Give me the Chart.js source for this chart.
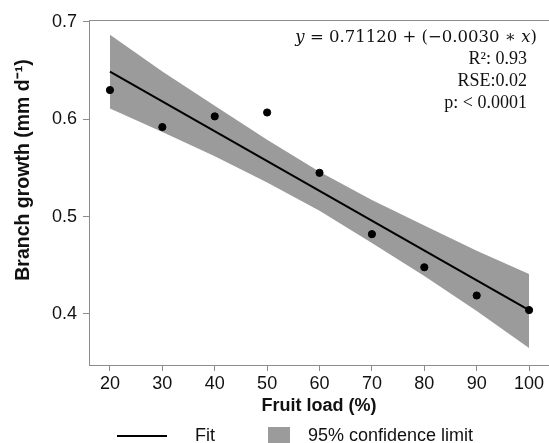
<!DOCTYPE html>
<html>
<head>
<meta charset="utf-8">
<script src="https://cdn.jsdelivr.net/npm/chart.js@4.4.1/dist/chart.umd.min.js"></script>
<style>
  html, body { margin: 0; padding: 0; background: #fff; }
  #wrap { width: 549px; height: 443px; }
</style>
</head>
<body>
<div id="wrap"><canvas id="growthChart" width="549" height="443"></canvas></div>
<script>
// observed values
const fruitLoad = [20, 30, 40, 50, 60, 70, 80, 90, 100];
const branchGrowth = [0.630, 0.592, 0.603, 0.607, 0.545, 0.482, 0.448, 0.419, 0.404];

// fitted line (end points)
const fitX = [20, 100];
const fitY = [0.649, 0.404];

// 95% confidence band, read at each fruit load
const ciUpper = [0.687, 0.649, 0.614, 0.579, 0.546, 0.517, 0.491, 0.465, 0.441];
const ciLower = [0.611, 0.587, 0.562, 0.535, 0.506, 0.473, 0.439, 0.403, 0.365];

const xTicks = [20, 30, 40, 50, 60, 70, 80, 90, 100];
const yTicks = [0.4, 0.5, 0.6, 0.7];

const statLines = ['R\u00B2: 0.93', 'RSE:0.02', 'p: < 0.0001'];

const axisGrey = '#8c8c8c';
const bandGrey = '#9b9b9b';
const sans = '"Liberation Sans", Arial, sans-serif';
const serif = '"Liberation Serif", "DejaVu Serif", serif';
const mathSerif = '"DejaVu Serif", serif';

function pts(xs, ys) {
    return xs.map((x, i) => ({ x: x, y: ys[i] }));
}

// top border line, y title, regression text and the legend under the axis
const extras = {
    id: 'extras',
    afterDraw(chart) {
        const { ctx, chartArea } = chart;
        ctx.save();

        ctx.strokeStyle = axisGrey;
        ctx.lineWidth = 1;
        ctx.beginPath();
        ctx.moveTo(chartArea.left, chartArea.top + 0.5);
        ctx.lineTo(chart.width, chartArea.top + 0.5);
        ctx.stroke();

        // y axis title (sits a bit above the middle in the original)
        ctx.save();
        ctx.translate(23.5, 170);
        ctx.rotate(-Math.PI / 2);
        ctx.font = 'bold 19.5px ' + sans;
        ctx.fillStyle = '#111';
        ctx.textAlign = 'center';
        ctx.textBaseline = 'middle';
        ctx.fillText('Branch growth (mm d\u207B\u00B9)', 0, 0);
        ctx.restore();

        // equation, right aligned
        const parts = [
            { t: 'y', it: true },
            { t: ' = 0.71120 + (\u22120.0030 \u2217 ', it: false },
            { t: 'x', it: true },
            { t: ')', it: false }
        ];
        const size = 16.5;
        let total = 0;
        parts.forEach(p => {
            ctx.font = (p.it ? 'italic ' : '') + size + 'px ' + mathSerif;
            p.w = ctx.measureText(p.t).width;
            total += p.w;
        });
        ctx.fillStyle = '#111';
        ctx.textBaseline = 'alphabetic';
        ctx.textAlign = 'left';
        let x = 537 - total;
        parts.forEach(p => {
            ctx.font = (p.it ? 'italic ' : '') + size + 'px ' + mathSerif;
            ctx.fillText(p.t, x, 42);
            x += p.w;
        });

        ctx.font = '18px ' + serif;
        ctx.textAlign = 'right';
        statLines.forEach((s, i) => {
            ctx.fillText(s, 527, 64 + i * 22);
        });

        // legend
        const ly = 436;
        ctx.strokeStyle = '#000';
        ctx.lineWidth = 2;
        ctx.beginPath();
        ctx.moveTo(117, ly);
        ctx.lineTo(167, ly);
        ctx.stroke();
        ctx.fillStyle = bandGrey;
        ctx.fillRect(268, 427, 22, 20);
        ctx.fillStyle = '#111';
        ctx.textAlign = 'left';
        ctx.textBaseline = 'middle';
        ctx.font = '18px ' + sans;
        ctx.fillText('Fit', 195, ly);
        ctx.fillText('95% confidence limit', 308, ly);

        ctx.restore();
    }
};

const ctx = document.getElementById('growthChart').getContext('2d');
const growthChart = new Chart(ctx, {
    type: 'scatter',
    data: {
        datasets: [
            {
                label: 'Observed',
                data: pts(fruitLoad, branchGrowth),
                backgroundColor: '#000',
                borderColor: '#000',
                pointRadius: 3.6,
                showLine: false
            },
            {
                label: 'Fit',
                data: pts(fitX, fitY),
                borderColor: '#000',
                borderWidth: 2,
                pointRadius: 0,
                showLine: true
            },
            {
                label: '95% confidence limit',
                data: pts(fruitLoad, ciUpper),
                borderWidth: 0,
                borderColor: 'rgba(0,0,0,0)',
                backgroundColor: bandGrey,
                pointRadius: 0,
                showLine: true,
                fill: '+1'
            },
            {
                label: 'lower',
                data: pts(fruitLoad, ciLower),
                borderWidth: 0,
                borderColor: 'rgba(0,0,0,0)',
                pointRadius: 0,
                showLine: true,
                fill: false
            }
        ]
    },
    options: {
        responsive: false,
        animation: false,
        devicePixelRatio: 1,
        layout: { autoPadding: false, padding: { left: 0, right: 0, top: 20, bottom: 0 } },
        plugins: {
            legend: { display: false },
            tooltip: { enabled: false }
        },
        scales: {
            x: {
                type: 'linear',
                min: 16,
                max: 103.8,
                afterBuildTicks: s => { s.ticks = xTicks.map(v => ({ value: v })); },
                afterFit: s => { s.height = 78; s.paddingLeft = 0; s.paddingRight = 0; },
                grid: { display: true, drawOnChartArea: false, drawTicks: true, tickLength: 6, tickColor: axisGrey },
                border: { color: axisGrey, width: 1 },
                ticks: { color: '#111', font: { family: sans, size: 18 }, padding: 2, maxRotation: 0 },
                title: {
                    display: true,
                    text: 'Fruit load (%)',
                    color: '#111',
                    font: { family: sans, size: 18, weight: 'bold' },
                    padding: { top: 0, bottom: 26 }
                }
            },
            y: {
                min: 0.3476,
                max: 0.702,
                afterBuildTicks: s => { s.ticks = yTicks.map(v => ({ value: v })); },
                afterFit: s => { s.width = 89; s.paddingTop = 0; s.paddingBottom = 0; },
                grid: { display: true, drawOnChartArea: false, drawTicks: true, tickLength: 6, tickColor: axisGrey },
                border: { color: axisGrey, width: 1 },
                ticks: { color: '#111', font: { family: sans, size: 18 }, padding: 6, callback: v => v.toFixed(1) },
                title: { display: false }
            }
        }
    },
    plugins: [extras]
});
</script>
</body>
</html>
